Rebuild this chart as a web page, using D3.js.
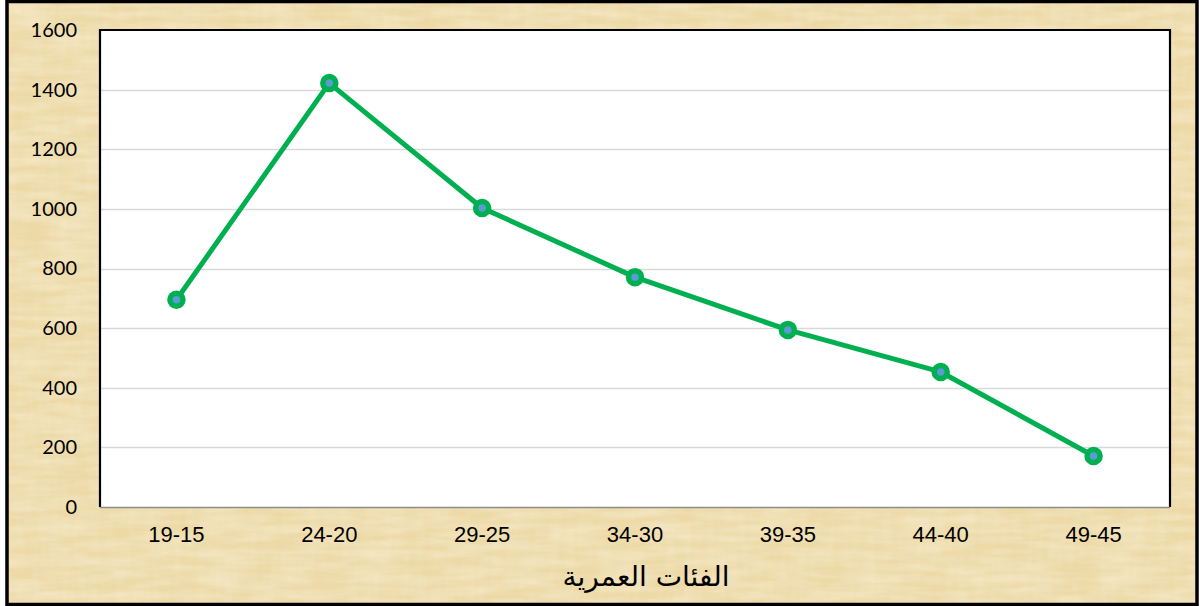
<!DOCTYPE html>
<html><head><meta charset="utf-8">
<script src="https://cdn.jsdelivr.net/npm/d3@7"></script>
<style>html,body{margin:0;padding:0;background:#fff;}svg{display:block;}</style>
</head><body>
<script>
const categories = ["19-15","24-20","29-25","34-30","39-35","44-40","49-45"];
const values = [695, 1422, 1003, 771, 594, 453, 171];
const yTicks = [0,200,400,600,800,1000,1200,1400,1600];
const xTitle = "الفئات العمرية";

const W = 1199, H = 606;
const m = {left:100, right:29, top:30, bottom:99};
const svg = d3.select("body").append("svg").attr("width",W).attr("height",H);
const defs = svg.append("defs");
const f = defs.append("filter").attr("id","paper").attr("x",0).attr("y",0).attr("width","100%").attr("height","100%");
f.append("feTurbulence").attr("type","fractalNoise").attr("baseFrequency","0.12 0.02").attr("numOctaves",3).attr("seed",7).attr("result","n");
f.append("feColorMatrix").attr("in","n").attr("type","matrix")
 .attr("values","0 0 0 0 0.90  0 0 0 0 0.80  0 0 0 0 0.56  0 0 0 -1.4 1.0").attr("result","c");
f.append("feComposite").attr("in","c").attr("in2","SourceGraphic").attr("operator","over");
const f2 = defs.append("filter").attr("id","paper2").attr("x",0).attr("y",0).attr("width","100%").attr("height","100%");
f2.append("feTurbulence").attr("type","fractalNoise").attr("baseFrequency","0.02 0.12").attr("numOctaves",3).attr("seed",11).attr("result","n");
f2.append("feColorMatrix").attr("in","n").attr("type","matrix")
 .attr("values","0 0 0 0 0.97  0 0 0 0 0.91  0 0 0 0 0.74  0 0 0 -1.4 1.0").attr("result","c");
f2.append("feComposite").attr("in","c").attr("in2","SourceGraphic").attr("operator","over");

const bg = {x:7, y:1.5, w:W-9, h:H-3};
svg.append("rect").attr("x",bg.x).attr("y",bg.y).attr("width",bg.w).attr("height",bg.h).attr("fill","#edd9a5");
svg.append("rect").attr("x",bg.x).attr("y",bg.y).attr("width",bg.w).attr("height",bg.h).attr("fill","#edd9a5").attr("filter","url(#paper)").attr("opacity",0.6);
svg.append("rect").attr("x",bg.x).attr("y",bg.y).attr("width",bg.w).attr("height",bg.h).attr("fill","#edd9a5").attr("filter","url(#paper2)").attr("opacity",0.5);
svg.append("rect").attr("x",bg.x).attr("y",bg.y).attr("width",bg.w).attr("height",bg.h).attr("fill","none").attr("stroke","#000").attr("stroke-width",3.5);

const x = d3.scaleBand().domain(categories).range([m.left, W-m.right]);
const y = d3.scaleLinear().domain([0,1600]).range([H-m.bottom, m.top]);

svg.append("rect").attr("x",m.left).attr("y",m.top).attr("width",W-m.right-m.left).attr("height",H-m.bottom-m.top).attr("fill","#fff");

// grid
svg.append("g").selectAll("line").data(yTicks.filter(d=>d>0&&d<1600)).join("line")
  .attr("x1",m.left).attr("x2",W-m.right).attr("y1",d=>Math.round(y(d))+0.5).attr("y2",d=>Math.round(y(d))+0.5)
  .attr("stroke","#d9d9d9").attr("stroke-width",1.5);

// plot border
svg.append("path").attr("d",`M${m.left},${H-m.bottom}V${m.top}H${W-m.right}V${H-m.bottom}`)
  .attr("fill","none").attr("stroke","#000").attr("stroke-width",2.2);
svg.append("line").attr("x1",m.left).attr("x2",W-m.right).attr("y1",H-m.bottom+0.5).attr("y2",H-m.bottom+0.5)
  .attr("stroke","#8c8c8c").attr("stroke-width",1.5);

// y axis
const ya = svg.append("g").attr("transform",`translate(${m.left},0)`)
  .call(d3.axisLeft(y).tickValues(yTicks).tickSize(0).tickPadding(23).tickFormat(d3.format("d")));
ya.select(".domain").remove();
ya.selectAll("text").attr("font-family","Lato, 'Open Sans', sans-serif").attr("font-size",20).attr("fill","#000");

// x axis
const xa = svg.append("g").attr("transform",`translate(0,${H-m.bottom})`)
  .call(d3.axisBottom(x).tickSize(0).tickPadding(19));
xa.select(".domain").remove();
xa.selectAll("text").attr("font-family","'Liberation Sans', Arial, sans-serif").attr("font-size",22).attr("fill","#000");

svg.append("text").attr("x",646).attr("y",586).attr("text-anchor","middle")
  .attr("font-family","'DejaVu Sans',serif").attr("font-size",28).attr("fill","#000").attr("direction","rtl").text(xTitle);

// line
const cx = d => x(d) + x.bandwidth()/2;
const line = d3.line().x((d,i)=>cx(categories[i])).y(d=>y(d));
svg.append("path").datum(values).attr("d",line).attr("fill","none").attr("stroke","#00b050").attr("stroke-width",5).attr("stroke-linejoin","round");
svg.append("g").selectAll("circle").data(values).join("circle")
  .attr("cx",(d,i)=>cx(categories[i])).attr("cy",d=>y(d)).attr("r",6.5)
  .attr("fill","#5b9bd5").attr("stroke","#00b050").attr("stroke-width",5.5);
</script>
</body></html>
